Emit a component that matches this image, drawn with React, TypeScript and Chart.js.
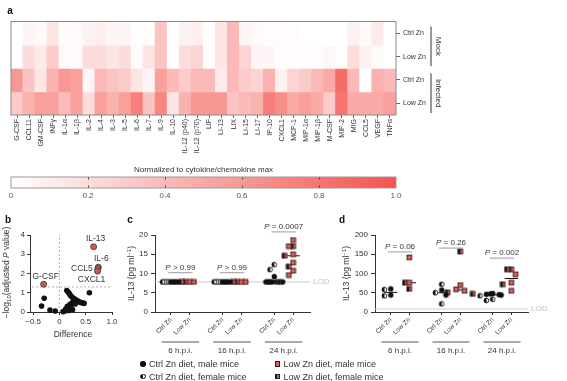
import React, { useEffect, useRef } from "react";
import { Chart, registerables } from "chart.js";

Chart.register(...registerables);

const FONT = "'Liberation Sans', Arial, Helvetica, sans-serif";
Chart.defaults.font.family = FONT;
Chart.defaults.color = "#333";

const TEXT = "#333";
const AXIS = "#333";
const RED = "#DE5D58";

// ---------------- panel a: heatmap ----------------
const cytokines = ["G-CSF", "CCL11", "GM-CSF", "INFγ", "IL-1α", "IL-1β", "IL-2", "IL-4", "IL-3", "IL-5", "IL-6", "IL-7", "IL-9", "IL-10", "IL-12 (p40)", "IL-12 (p70)", "LIF", "LI-13", "LIX", "LI-15", "LI-17", "IP-10", "CXCL1", "MCP-1", "MIP-1α", "MIP-1β", "M-CSF", "MIP-2", "MIG", "CCL5", "VEGF", "TNFα"];
const heatRowLabels = ["Ctrl Zn", "Low Zn", "Ctrl Zn", "Low Zn"];
const heatGroupLabels = ["Mock", "Infected"];
const mockCtrlZn = [0, 0.05, 0.03, 0.15, 0.02, 0.03, 0.07, 0.1, 0.05, 0.05, 0, 0.02, 0.35, 0, 0.08, 0.1, 0, 0.15, 0.4, 0.05, 0.03, 0.02, 0.02, 0.02, 0, 0, 0, 0, 0.08, 0.03, 0.12, 0];
const mockLowZn = [0, 0.2, 0.12, 0.3, 0.03, 0.03, 0.2, 0.2, 0.15, 0.2, 0.02, 0.15, 0.35, 0, 0.2, 0.25, 0.02, 0.15, 0.4, 0.25, 0.05, 0.05, 0.02, 0.02, 0.02, 0.02, 0.05, 0.02, 0.2, 0.08, 0.03, 0];
const infCtrlZn = [0.6, 0.35, 0.15, 0.45, 0.6, 0.55, 0.05, 0.4, 0.35, 0.3, 0.15, 0.05, 0.55, 0.4, 0.3, 0.4, 0.4, 0.12, 0.4, 0.3, 0.25, 0.45, 0.08, 0.25, 0.3, 0.4, 0.5, 0.85, 0.4, 0, 0.45, 0.4];
const infLowZn = [0.3, 0.45, 0.55, 0.55, 0.4, 0.55, 0.2, 0.55, 0.45, 0.55, 0.75, 0.35, 0.7, 0.15, 0.45, 0.6, 0.6, 0.6, 0.35, 0.4, 0.45, 0.75, 0.65, 0.5, 0.55, 0.5, 0.3, 0.8, 0.5, 0.5, 0.5, 0.55];
const colorbarTicks = [0, 0.2, 0.4, 0.6, 0.8, 1.0];
const colorbarTitle = "Normalized to cytokine/chemokine max";

// ---------------- panel b: volcano ----------------
const bSigNames = ["IL-13", "IL-6", "CCL5", "CXCL1", "G-CSF"];
const bSigDiff = [0.65, 0.74, 0.73, 0.725, -0.3];
const bSigLogP = [3.39, 2.33, 2.25, 2.12, 1.44];
const bSigLabelSide = ["above", "aboveRight", "left", "belowLeft", "above"];
const bNsDiff = [-0.34, -0.29, -0.18, -0.08, 0.07, 0.57, 0.14, 0.17, 0.19, 0.21, 0.24, 0.27, 0.3, 0.33, 0.36, 0.4, 0.44, 0.47, 0.25, 0.3, 0.2, 0.15, 0.22, 0.12, 0.17, 0.25, 0.1];
const bNsLogP = [0.31, 0.71, 0.1, 0.05, 0.02, 1.0, 1.12, 1.02, 0.95, 0.86, 0.78, 0.7, 0.66, 0.6, 0.55, 0.5, 0.47, 0.45, 0.5, 0.42, 0.4, 0.3, 0.25, 0.15, 0.08, 0.12, 0.05];
const bXTicks = [-0.5, 0, 0.5, 1.0];
const bYTicks = [0, 1, 2, 3, 4];
const bSigThreshold = 1.3;

// ---------------- panels c, d: IL-13 dot plots ----------------
const timeLabels = ["6 h.p.i.", "16 h.p.i.", "24 h.p.i."];
const dietLabels = ["Ctrl Zn", "Low Zn"];
const lodIL13 = 7.8;

const cCtrlMale = [[7.8, 7.8, 7.8, 7.8], [7.8, 7.8, 7.8, 7.8], [7.8, 7.8, 7.8, 7.8, 7.8, 9.2]];
const cCtrlFemale = [[7.8, 7.8, 7.8, 7.8], [7.8, 7.8, 7.8, 7.8], [7.8, 7.8, 7.8, 11.0, 12.3]];
const cLowMale = [[7.8, 7.8], [7.8, 7.8], [18.7, 17.1, 15.0, 12.8, 10.7, 9.6]];
const cLowFemale = [[7.8, 7.8], [7.8, 7.8], [17.1, 14.6, 11.8]];
const cPText = ["P > 0.99", "P > 0.99", "P = 0.0007"];
const cBracketY = [10.2, 10.2, 20.8];
const cYTicks = [0, 5, 10, 15, 20];

const dCtrlMale = [[60, 44], [57, 44], [44, 47, 48, 46, 45]];
const dCtrlFemale = [[58, 42], [72, 50, 21], [30, 33, 42]];
const dLowMale = [[76, 142], [59, 55, 70], [98, 76, 55]];
const dLowFemale = [[76, 60], [47, 51, 157], [111, 111, 72]];
const dPText = ["P = 0.06", "P = 0.26", "P = 0.002"];
const dBracketY = [156, 166, 140];
const dYTicks = [0, 50, 100, 150, 200];

const legendLabels = ["Ctrl Zn diet, male mice", "Ctrl Zn diet, female mice", "Low Zn diet, male mice", "Low Zn diet, female mice"];

// ---------------- helpers ----------------
const GROUP_GAP = 2.75;
const X_MIN = -0.85;
const X_MAX = 7.4;

function heatColor(v: number) {
  const t = Math.max(0, Math.min(1, v));
  const r = Math.round(255 + (244 - 255) * t);
  const g = Math.round(255 + (83 - 255) * t);
  const b = Math.round(255 + (77 - 255) * t);
  return `rgb(${r},${g},${b})`;
}

function fmtNum(v: number) {
  if (v === 0) return "0";
  const s = Math.abs(v).toFixed(1);
  return v < 0 ? "−" + s : s;
}

type Part = { text: string; font: string; dy?: number };
function drawRich(ctx: CanvasRenderingContext2D, parts: Part[], cx: number, cy: number, angle: number) {
  ctx.save();
  ctx.translate(cx, cy);
  ctx.rotate(angle);
  ctx.textBaseline = "middle";
  ctx.textAlign = "left";
  ctx.fillStyle = TEXT;
  let total = 0;
  const ws = parts.map((p) => {
    ctx.font = p.font;
    const w = ctx.measureText(p.text).width;
    total += w;
    return w;
  });
  let x = -total / 2;
  parts.forEach((p, i) => {
    ctx.font = p.font;
    ctx.fillText(p.text, x, p.dy || 0);
    x += ws[i];
  });
  ctx.restore();
}

function drawLetter(ctx: CanvasRenderingContext2D, l: string, x: number, y: number) {
  ctx.save();
  ctx.font = `bold 10px ${FONT}`;
  ctx.fillStyle = "#111";
  ctx.textAlign = "center";
  ctx.textBaseline = "middle";
  ctx.fillText(l, x, y);
  ctx.restore();
}

function makeMarker(kind: string): HTMLCanvasElement {
  const s = 7;
  const c = document.createElement("canvas");
  c.width = s;
  c.height = s;
  const g = c.getContext("2d")!;
  const cx = 3.5, cy = 3.5;
  if (kind === "cm" || kind === "cf") {
    const r = 2.7;
    if (kind === "cm") {
      g.fillStyle = "#111";
      g.beginPath();
      g.arc(cx, cy, r, 0, Math.PI * 2);
      g.fill();
    } else {
      g.fillStyle = "#fff";
      g.beginPath();
      g.arc(cx, cy, r, 0, Math.PI * 2);
      g.fill();
      g.fillStyle = "#111";
      g.beginPath();
      g.arc(cx, cy, r, Math.PI / 2, (3 * Math.PI) / 2);
      g.closePath();
      g.fill();
      g.strokeStyle = "#111";
      g.lineWidth = 0.9;
      g.beginPath();
      g.arc(cx, cy, r - 0.4, 0, Math.PI * 2);
      g.stroke();
    }
  } else {
    const h = 2.7;
    g.fillStyle = RED;
    g.fillRect(cx - h, cy - h, 2 * h, 2 * h);
    if (kind === "sf") {
      g.fillStyle = "#111";
      g.fillRect(cx - h, cy - h, h, 2 * h);
    }
    g.strokeStyle = "#222";
    g.lineWidth = 0.8;
    g.strokeRect(cx - h + 0.4, cy - h + 0.4, 2 * h - 0.8, 2 * h - 0.8);
  }
  return c;
}

function swarmOffsets(vals: number[], pxY: number, tight: number, D: number): number[] {
  const idx = vals.map((_, i) => i).sort((a, b) => vals[b] - vals[a]);
  const placed: [number, number][] = [];
  const res = vals.map(() => 0);
  for (const i of idx) {
    const y = vals[i] * pxY;
    for (let k = 0; k < 100; k++) {
      const m = k === 0 ? 0 : k % 2 === 1 ? -Math.ceil(k / 2) : Math.ceil(k / 2);
      const x = m * tight;
      let ok = true;
      for (const [px, py] of placed) {
        const dx = Math.abs(x - px);
        const dy = Math.abs(y - py);
        if (dy < 0.5 ? dx < tight - 1e-6 : dx * dx + dy * dy < D * D) {
          ok = false;
          break;
        }
      }
      if (ok) {
        res[i] = x;
        placed.push([x, y]);
        break;
      }
    }
  }
  return res;
}

function median(a: number[]) {
  const s = [...a].sort((x, y) => x - y);
  const n = s.length;
  return n % 2 ? s[(n - 1) / 2] : (s[n / 2 - 1] + s[n / 2]) / 2;
}

const baseOpts = {
  responsive: false,
  maintainAspectRatio: false,
  animation: false as const,
  devicePixelRatio: 1,
  events: [] as any[],
};

// ---------------- chart builders ----------------
function makeHeatmap(cv: HTMLCanvasElement) {
  const rows = [mockCtrlZn, mockLowZn, infCtrlZn, infLowZn];
  const plugin = {
    id: "heatdeco",
    afterDraw(chart: any) {
      const { ctx, chartArea: ca, scales } = chart;
      const y = scales.y;
      ctx.save();
      ctx.strokeStyle = "#8a8a8a";
      ctx.lineWidth = 1;
      ctx.strokeRect(ca.left, ca.top, ca.right - ca.left, ca.bottom - ca.top);
      ctx.strokeStyle = "#333";
      ctx.lineWidth = 1;
      heatGroupLabels.forEach((lab, gi) => {
        const y0 = y.getPixelForValue(gi * 2) + 5;
        const y1 = y.getPixelForValue(gi * 2 + 2) - 2;
        const bx = ca.right + 35;
        ctx.beginPath();
        ctx.moveTo(bx, y0);
        ctx.lineTo(bx, y1);
        ctx.stroke();
        drawRich(ctx, [{ text: lab, font: `8px ${FONT}` }], bx + 7.5, (y0 + y1) / 2, Math.PI / 2);
      });
      ctx.restore();
      drawLetter(ctx, "a", 10, 11);
    },
  };
  return new Chart(cv, {
    type: "bar",
    data: {
      labels: cytokines,
      datasets: rows.map((row) => ({
        data: row.map(() => 1),
        backgroundColor: row.map(heatColor),
        borderWidth: 0,
        barPercentage: 1,
        categoryPercentage: 1,
        inflateAmount: 0.6,
      })),
    },
    options: {
      ...baseOpts,
      layout: { padding: { left: 11, top: 21.5, right: 0, bottom: 0 } },
      plugins: { legend: { display: false }, tooltip: { enabled: false } },
      scales: {
        x: {
          stacked: true,
          grid: { offset: false, drawOnChartArea: false, tickLength: 3, color: "#666" },
          border: { display: false },
          ticks: { autoSkip: false, minRotation: 90, maxRotation: 90, padding: 1, font: { size: 7 }, color: TEXT },
          afterFit: (s: any) => {
            s.height = 165 - 115;
          },
        },
        y: {
          stacked: true,
          position: "right",
          min: 0,
          max: 4,
          reverse: true,
          grid: { offset: false, drawOnChartArea: false, tickLength: 4, color: "#666" },
          border: { display: false },
          afterBuildTicks: (s: any) => {
            s.ticks = heatRowLabels.map((_, i) => ({ value: i + 0.5 }));
          },
          ticks: { callback: (_v: any, i: number) => heatRowLabels[i], font: { size: 7 }, color: TEXT, padding: 3 },
          afterFit: (s: any) => {
            s.width = 460 - 396;
          },
        },
      },
    } as any,
    plugins: [plugin],
  });
}

function makeColorbar(cv: HTMLCanvasElement) {
  const plugin = {
    id: "cbdeco",
    afterDatasetsDraw(chart: any) {
      const { ctx, chartArea: ca, scales } = chart;
      ctx.save();
      ctx.strokeStyle = "#444";
      ctx.lineWidth = 1;
      colorbarTicks.slice(1, -1).forEach((v) => {
        const x = Math.round(scales.x.getPixelForValue(v)) + 0.5;
        ctx.beginPath();
        ctx.moveTo(x, ca.top);
        ctx.lineTo(x, ca.top + 2.5);
        ctx.moveTo(x, ca.bottom - 2.5);
        ctx.lineTo(x, ca.bottom);
        ctx.stroke();
      });
      ctx.strokeStyle = "#999";
      ctx.strokeRect(ca.left, ca.top, ca.right - ca.left, ca.bottom - ca.top);
      ctx.fillStyle = TEXT;
      ctx.font = `8px ${FONT}`;
      ctx.textAlign = "center";
      ctx.textBaseline = "middle";
      ctx.fillText(colorbarTitle, (ca.left + ca.right) / 2, ca.top - 7);
      ctx.restore();
    },
  };
  return new Chart(cv, {
    type: "bar",
    data: {
      labels: [""],
      datasets: [
        {
          data: [1],
          barPercentage: 1,
          categoryPercentage: 1,
          borderWidth: 0,
          backgroundColor: (c: any) => {
            const ca = c.chart.chartArea;
            if (!ca) return heatColor(0.5);
            const g = c.chart.ctx.createLinearGradient(ca.left, 0, ca.right, 0);
            for (let i = 0; i <= 10; i++) g.addColorStop(i / 10, heatColor(i / 10));
            return g;
          },
        },
      ],
    },
    options: {
      ...baseOpts,
      indexAxis: "y",
      layout: { padding: { left: 11, right: 24, top: 17, bottom: 0 } },
      plugins: { legend: { display: false }, tooltip: { enabled: false } },
      scales: {
        x: {
          min: 0,
          max: 1,
          afterBuildTicks: (s: any) => {
            s.ticks = colorbarTicks.map((value) => ({ value }));
          },
          ticks: { callback: (v: number) => fmtNum(v), font: { size: 8 }, color: "#555", padding: 3 },
          grid: { display: false, drawTicks: false, tickLength: 0 },
          border: { display: false },
          afterFit: (s: any) => {
            s.height = 17;
          },
        },
        y: { display: false },
      },
    } as any,
    plugins: [plugin],
  });
}

function makeVolcano(cv: HTMLCanvasElement) {
  const plugin = {
    id: "volcdeco",
    beforeDatasetsDraw(chart: any) {
      const { ctx, chartArea: ca, scales } = chart;
      ctx.save();
      ctx.strokeStyle = "#aaa";
      ctx.lineWidth = 0.9;
      ctx.setLineDash([2, 2]);
      const x0 = scales.x.getPixelForValue(0);
      const yT = scales.y.getPixelForValue(bSigThreshold);
      ctx.beginPath();
      ctx.moveTo(x0, ca.bottom);
      ctx.lineTo(x0, ca.top);
      ctx.moveTo(ca.left + 2, yT);
      ctx.lineTo(ca.right, yT);
      ctx.stroke();
      ctx.restore();
    },
    afterDraw(chart: any) {
      const { ctx, chartArea: ca, scales } = chart;
      ctx.save();
      ctx.fillStyle = TEXT;
      ctx.font = `8.5px ${FONT}`;
      ctx.textBaseline = "middle";
      bSigNames.forEach((name, i) => {
        const px = scales.x.getPixelForValue(bSigDiff[i]);
        const py = scales.y.getPixelForValue(bSigLogP[i]);
        const side = bSigLabelSide[i];
        if (side === "left") {
          ctx.textAlign = "right";
          ctx.fillText(name, px - 5, py);
        } else if (side === "belowLeft") {
          ctx.textAlign = "center";
          ctx.fillText(name, px - 6, py + 8);
        } else if (side === "aboveRight") {
          ctx.textAlign = "center";
          ctx.fillText(name, px + 3, py - 8);
        } else {
          ctx.textAlign = "center";
          ctx.fillText(name, px + 2, py - 8);
        }
      });
      ctx.textAlign = "center";
      ctx.fillText("Difference", (ca.left + ca.right) / 2 + 2, ca.bottom + 23);
      ctx.restore();
      const f = `8.5px ${FONT}`;
      drawRich(
        ctx,
        [
          { text: "−log", font: f },
          { text: "10", font: `6px ${FONT}`, dy: 2.5 },
          { text: "(adjusted ", font: f },
          { text: "P", font: `italic 8.5px ${FONT}` },
          { text: " value)", font: f },
        ],
        7,
        (ca.top + ca.bottom) / 2 - 1,
        -Math.PI / 2
      );
      drawLetter(ctx, "b", 8, 8);
    },
  };
  return new Chart(cv, {
    type: "scatter",
    data: {
      datasets: [
        {
          data: bNsDiff.map((x, i) => ({ x, y: bNsLogP[i] })),
          pointRadius: 2.8,
          pointBackgroundColor: "#111",
          pointBorderWidth: 0,
          clip: false,
        },
        {
          data: bSigDiff.map((x, i) => ({ x, y: bSigLogP[i] })),
          pointRadius: 3,
          pointBackgroundColor: "#D4544F",
          pointBorderColor: "#333",
          pointBorderWidth: 0.8,
          clip: false,
        },
      ],
    },
    options: {
      ...baseOpts,
      layout: { padding: { left: 0, right: 13, top: 23, bottom: 0 } },
      plugins: { legend: { display: false }, tooltip: { enabled: false } },
      scales: {
        x: {
          type: "linear",
          min: -0.56,
          max: 1.0,
          afterBuildTicks: (s: any) => {
            s.ticks = bXTicks.map((value) => ({ value }));
          },
          ticks: { callback: (v: number) => fmtNum(v), font: { size: 8 }, color: TEXT, padding: 2 },
          grid: { drawOnChartArea: false, tickLength: 3, color: AXIS },
          border: { color: AXIS },
          afterFit: (s: any) => {
            s.height = 30;
          },
        },
        y: {
          min: 0,
          max: 4,
          afterBuildTicks: (s: any) => {
            s.ticks = bYTicks.map((value) => ({ value }));
          },
          ticks: { font: { size: 8 }, color: TEXT, padding: 2 },
          grid: { drawOnChartArea: false, tickLength: 3, color: AXIS },
          border: { color: AXIS },
          afterFit: (s: any) => {
            s.width = 30;
          },
        },
      },
    } as any,
    plugins: [plugin],
  });
}

type DotCfg = {
  ctrlMale: number[][];
  ctrlFemale: number[][];
  lowMale: number[][];
  lowFemale: number[][];
  yMax: number;
  yTicks: number[];
  pText: string[];
  bracketY: number[];
  letter: string;
  letterX: number;
  titleX: number;
  yAxisWidth: number;
  rightPad: number;
  width: number;
};

function makeDot(cv: HTMLCanvasElement, cfg: DotCfg) {
  const markers = { cm: makeMarker("cm"), cf: makeMarker("cf"), sm: makeMarker("sm"), sf: makeMarker("sf") };
  const areaW = cfg.width - cfg.yAxisWidth - cfg.rightPad;
  const pxX = areaW / (X_MAX - X_MIN);
  const pxY = 77 / cfg.yMax;
  const pos = (g: number, d: number) => g * GROUP_GAP + d;
  const diets = [
    { male: cfg.ctrlMale, female: cfg.ctrlFemale, mImg: markers.cm, fImg: markers.cf, tight: 2.1 },
    { male: cfg.lowMale, female: cfg.lowFemale, mImg: markers.sm, fImg: markers.sf, tight: 4.2 },
  ];
  const datasets: any[] = [];
  const medians: { x: number; y: number }[] = [];
  diets.forEach((dt, d) => {
    const mPts: any[] = [];
    const fPts: any[] = [];
    for (let g = 0; g < timeLabels.length; g++) {
      const items: { v: number; sex: number }[] = [];
      const m = dt.male[g], f = dt.female[g];
      for (let i = 0; i < Math.max(m.length, f.length); i++) {
        if (i < m.length) items.push({ v: m[i], sex: 0 });
        if (i < f.length) items.push({ v: f[i], sex: 1 });
      }
      const offs = swarmOffsets(items.map((it) => it.v), pxY, dt.tight, 5.5);
      items.forEach((it, i) => {
        const p = { x: pos(g, d) + offs[i] / pxX, y: it.v };
        (it.sex === 0 ? mPts : fPts).push(p);
      });
      medians.push({ x: pos(g, d), y: median(items.map((it) => it.v)) });
    }
    datasets.push({ data: mPts, pointStyle: dt.mImg, clip: false });
    datasets.push({ data: fPts, pointStyle: dt.fImg, clip: false });
  });

  const tickPositions: number[] = [];
  for (let g = 0; g < timeLabels.length; g++) for (let d = 0; d < 2; d++) tickPositions.push(pos(g, d));

  const plugin = {
    id: "dotdeco",
    beforeDatasetsDraw(chart: any) {
      const { ctx, chartArea: ca, scales } = chart;
      const { x, y } = scales;
      ctx.save();
      const yl = y.getPixelForValue(lodIL13);
      ctx.strokeStyle = "#cdcdcd";
      ctx.lineWidth = 1;
      ctx.beginPath();
      ctx.moveTo(ca.left, yl);
      ctx.lineTo(ca.right, yl);
      ctx.stroke();
      ctx.fillStyle = "#c2c2c2";
      ctx.font = `8px ${FONT}`;
      ctx.textBaseline = "middle";
      ctx.textAlign = "left";
      ctx.fillText("LOD", ca.right + 3, yl);
      ctx.strokeStyle = "#111";
      ctx.lineWidth = 1;
      medians.forEach((m) => {
        const py = y.getPixelForValue(m.y);
        ctx.beginPath();
        ctx.moveTo(x.getPixelForValue(m.x - 0.36), py);
        ctx.lineTo(x.getPixelForValue(m.x + 0.36), py);
        ctx.stroke();
      });
      ctx.restore();
    },
    afterDraw(chart: any) {
      const { ctx, chartArea: ca, scales } = chart;
      const { x, y } = scales;
      ctx.save();
      cfg.pText.forEach((t, g) => {
        const by = y.getPixelForValue(cfg.bracketY[g]);
        const x0 = x.getPixelForValue(pos(g, 0) - 0.15);
        const x1 = x.getPixelForValue(pos(g, 1) + 0.15);
        ctx.strokeStyle = "#999";
        ctx.lineWidth = 1;
        ctx.beginPath();
        ctx.moveTo(x0, by);
        ctx.lineTo(x1, by);
        ctx.stroke();
        const rest = t.slice(1);
        ctx.font = `italic 8px ${FONT}`;
        const w1 = ctx.measureText("P").width;
        ctx.font = `8px ${FONT}`;
        const w2 = ctx.measureText(rest).width;
        const cx = (x0 + x1) / 2;
        const sx = cx - (w1 + w2) / 2;
        ctx.fillStyle = TEXT;
        ctx.textAlign = "left";
        ctx.textBaseline = "alphabetic";
        ctx.font = `italic 8px ${FONT}`;
        ctx.fillText("P", sx, by - 3);
        ctx.font = `8px ${FONT}`;
        ctx.fillText(rest, sx + w1, by - 3);
      });
      timeLabels.forEach((t, g) => {
        const x0 = x.getPixelForValue(pos(g, 0) - 0.5);
        const x1 = x.getPixelForValue(pos(g, 1) + 0.5);
        const ly = ca.bottom + 30;
        ctx.strokeStyle = "#444";
        ctx.lineWidth = 0.9;
        ctx.beginPath();
        ctx.moveTo(x0, ly);
        ctx.lineTo(x1, ly);
        ctx.stroke();
        ctx.fillStyle = TEXT;
        ctx.font = `8px ${FONT}`;
        ctx.textAlign = "center";
        ctx.textBaseline = "middle";
        ctx.fillText(t, (x0 + x1) / 2, ly + 8.5);
      });
      ctx.restore();
      const f = `8.5px ${FONT}`;
      drawRich(
        ctx,
        [
          { text: "IL-13 (pg ml", font: f },
          { text: "−1", font: `6px ${FONT}`, dy: -3 },
          { text: ")", font: f },
        ],
        cfg.titleX,
        (ca.top + ca.bottom) / 2,
        -Math.PI / 2
      );
      drawLetter(ctx, cfg.letter, cfg.letterX, 8);
    },
  };

  return new Chart(cv, {
    type: "scatter",
    data: { datasets },
    options: {
      ...baseOpts,
      layout: { padding: { left: 0, right: cfg.rightPad, top: 23, bottom: 0 } },
      plugins: { legend: { display: false }, tooltip: { enabled: false } },
      scales: {
        x: {
          type: "linear",
          min: X_MIN,
          max: X_MAX,
          afterBuildTicks: (s: any) => {
            s.ticks = tickPositions.map((value) => ({ value }));
          },
          ticks: {
            autoSkip: false,
            minRotation: 45,
            maxRotation: 45,
            padding: 1,
            font: { size: 6.5 },
            color: TEXT,
            callback: (_v: any, i: number) => dietLabels[i % 2],
          },
          grid: { drawOnChartArea: false, tickLength: 3, color: AXIS },
          border: { color: AXIS },
          afterFit: (s: any) => {
            s.height = 43;
          },
        },
        y: {
          min: 0,
          max: cfg.yMax,
          afterBuildTicks: (s: any) => {
            s.ticks = cfg.yTicks.map((value) => ({ value }));
          },
          ticks: { font: { size: 8 }, color: TEXT, padding: 3 },
          grid: { drawOnChartArea: false, tickLength: 4, color: AXIS },
          border: { color: AXIS },
          afterFit: (s: any) => {
            s.width = cfg.yAxisWidth;
          },
        },
      },
    } as any,
    plugins: [plugin],
  });
}

// ---------------- legend ----------------
const legendMarkerStyles: React.CSSProperties[] = [
  { background: "#111", borderRadius: "50%" },
  { background: "linear-gradient(to right, #111 50%, #fff 50%)", border: "0.8px solid #111", borderRadius: "50%", boxSizing: "border-box" },
  { background: RED, border: "0.8px solid #222", boxSizing: "border-box" },
  { background: `linear-gradient(to right, #111 50%, ${RED} 50%)`, border: "0.8px solid #222", boxSizing: "border-box" },
];

export default function App() {
  const refA = useRef<HTMLCanvasElement>(null);
  const refCb = useRef<HTMLCanvasElement>(null);
  const refB = useRef<HTMLCanvasElement>(null);
  const refC = useRef<HTMLCanvasElement>(null);
  const refD = useRef<HTMLCanvasElement>(null);

  useEffect(() => {
    const charts: Chart[] = [];
    charts.push(makeHeatmap(refA.current!));
    charts.push(makeColorbar(refCb.current!));
    charts.push(makeVolcano(refB.current!));
    charts.push(
      makeDot(refC.current!, {
        ctrlMale: cCtrlMale,
        ctrlFemale: cCtrlFemale,
        lowMale: cLowMale,
        lowFemale: cLowFemale,
        yMax: 20,
        yTicks: cYTicks,
        pText: cPText,
        bracketY: cBracketY,
        letter: "c",
        letterX: 12,
        titleX: 14,
        yAxisWidth: 37,
        rightPad: 20,
        width: 212,
      })
    );
    charts.push(
      makeDot(refD.current!, {
        ctrlMale: dCtrlMale,
        ctrlFemale: dCtrlFemale,
        lowMale: dLowMale,
        lowFemale: dLowFemale,
        yMax: 200,
        yTicks: dYTicks,
        pText: dPText,
        bracketY: dBracketY,
        letter: "d",
        letterX: 29,
        titleX: 34,
        yAxisWidth: 62,
        rightPad: 39,
        width: 254,
      })
    );
    return () => charts.forEach((c) => c.destroy());
  }, []);

  const cvStyle = (left: number, top: number, w: number, h: number): React.CSSProperties => ({
    position: "absolute",
    left,
    top,
    width: w,
    height: h,
  });

  const legendPos = [
    { x: 143, y: 364 },
    { x: 143, y: 376.5 },
    { x: 277.5, y: 364 },
    { x: 277.5, y: 376.5 },
  ];

  return (
    <div style={{ position: "absolute", left: 0, top: 0, width: 567, height: 381, background: "#fff", overflow: "hidden", fontFamily: FONT }}>
      <canvas ref={refA} width={460} height={165} style={cvStyle(0, 0, 460, 165)} />
      <canvas ref={refCb} width={420} height={45} style={cvStyle(0, 160, 420, 45)} />
      <canvas ref={refB} width={125} height={130} style={cvStyle(0, 212, 125, 130)} />
      <canvas ref={refC} width={212} height={143} style={cvStyle(118, 212, 212, 143)} />
      <canvas ref={refD} width={254} height={143} style={cvStyle(313, 212, 254, 143)} />
      {legendLabels.map((lab, i) => (
        <React.Fragment key={lab}>
          <div
            style={{
              position: "absolute",
              left: legendPos[i].x - 2.7,
              top: legendPos[i].y - 2.7,
              width: 5.4,
              height: 5.4,
              ...legendMarkerStyles[i],
            }}
          />
          <div
            style={{
              position: "absolute",
              left: legendPos[i].x + 6,
              top: legendPos[i].y - 6,
              height: 12,
              lineHeight: "12px",
              fontSize: 9,
              color: TEXT,
              whiteSpace: "nowrap",
            }}
          >
            {lab}
          </div>
        </React.Fragment>
      ))}
    </div>
  );
}
